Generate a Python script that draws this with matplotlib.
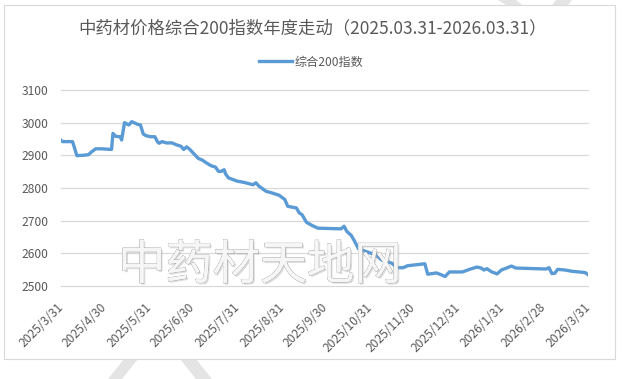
import numpy as np
import pandas as pd
import matplotlib
matplotlib.use('Agg')
import matplotlib.pyplot as plt
import matplotlib.patheffects as pe
from matplotlib.patches import Rectangle, Polygon

plt.rcParams['font.family'] = ['Noto Sans CJK SC', 'DejaVu Sans']

# index values
dates = ['2025-03-31', '2025-04-01', '2025-04-08', '2025-04-11', '2025-04-15', '2025-04-19',
         '2025-04-21', '2025-04-24', '2025-04-28', '2025-05-05', '2025-05-06', '2025-05-08',
         '2025-05-11', '2025-05-12', '2025-05-14', '2025-05-17', '2025-05-19', '2025-05-23',
         '2025-05-25', '2025-05-27', '2025-05-29', '2025-06-01', '2025-06-04', '2025-06-06',
         '2025-06-07', '2025-06-09', '2025-06-12', '2025-06-16', '2025-06-19', '2025-06-22',
         '2025-06-24', '2025-06-26', '2025-06-28', '2025-07-01', '2025-07-04', '2025-07-07',
         '2025-07-10', '2025-07-13', '2025-07-16', '2025-07-18', '2025-07-20', '2025-07-22',
         '2025-07-23', '2025-07-25', '2025-07-28', '2025-07-31', '2025-08-05', '2025-08-11',
         '2025-08-13', '2025-08-15', '2025-08-20', '2025-08-24', '2025-08-29', '2025-09-02',
         '2025-09-04', '2025-09-10', '2025-09-12', '2025-09-14', '2025-09-17', '2025-09-21',
         '2025-09-25', '2025-10-11', '2025-10-13', '2025-10-15', '2025-10-18', '2025-10-20',
         '2025-10-23', '2025-10-28', '2025-11-04', '2025-11-08', '2025-11-15', '2025-11-19',
         '2025-11-23', '2025-11-26', '2025-12-08', '2025-12-10', '2025-12-16', '2025-12-19',
         '2025-12-22', '2025-12-25', '2026-01-03', '2026-01-08', '2026-01-13', '2026-01-16',
         '2026-01-18', '2026-01-20', '2026-01-23', '2026-01-27', '2026-01-30', '2026-02-02',
         '2026-02-06', '2026-02-09', '2026-03-02', '2026-03-04', '2026-03-06', '2026-03-08',
         '2026-03-10', '2026-03-15', '2026-03-20', '2026-03-25', '2026-03-29', '2026-03-31']
values = [2946, 2942, 2942, 2899, 2900, 2902,
          2910, 2920, 2920, 2918, 2967, 2958,
          2957, 2947, 3000, 2993, 3003, 2995,
          2993, 2965, 2960, 2957, 2957, 2940,
          2937, 2942, 2938, 2938, 2932, 2928,
          2918, 2926, 2919, 2905, 2891, 2885,
          2876, 2868, 2864, 2851, 2851, 2856,
          2843, 2831, 2826, 2821, 2817, 2810,
          2816, 2806, 2790, 2785, 2778, 2765,
          2744, 2739, 2724, 2718, 2695, 2685,
          2677, 2675, 2683, 2667, 2655, 2640,
          2614, 2606, 2595, 2580, 2570, 2556,
          2556, 2562, 2568, 2536, 2540, 2535,
          2529, 2543, 2543, 2551, 2558, 2555,
          2549, 2553, 2544, 2537, 2549, 2554,
          2561, 2555, 2552, 2556, 2538, 2539,
          2551, 2549, 2545, 2543, 2541, 2535]

tick_dates = ['2025-03-31', '2025-04-30', '2025-05-31', '2025-06-30', '2025-07-31',
              '2025-08-31', '2025-09-30', '2025-10-31', '2025-11-30', '2025-12-31',
              '2026-01-31', '2026-02-28', '2026-03-31']
tick_labels = ['2025/3/31', '2025/4/30', '2025/5/31', '2025/6/30', '2025/7/31',
               '2025/8/31', '2025/9/30', '2025/10/31', '2025/11/30', '2025/12/31',
               '2026/1/31', '2026/2/28', '2026/3/31']
y_ticks = [2500, 2600, 2700, 2800, 2900, 3000, 3100]

title = '中药材价格综合200指数年度走动（2025.03.31-2026.03.31）'
series_name = '综合200指数'
watermark = '中药材天地网'

txt = '#595959'
grid_c = '#d9d9d9'
blue = '#5b9bd5'

fig = plt.figure(figsize=(6.3, 3.79), dpi=100)
W, H = 630, 379

# faint diagonal watermark stripes outside the chart frame
for pts in ([(498, 0), (516, 0), (522, 5), (506, 5)],
            [(556, 0), (572, 0), (568, 5), (552, 5)],
            [(108, 379), (122, 379), (138, 359), (124, 359)],
            [(180, 359), (196, 359), (212, 379), (196, 379)]):
    fig.patches.append(Polygon([(x / W, 1 - y / H) for x, y in pts], closed=True,
                               transform=fig.transFigure, facecolor='#e4e4e4',
                               edgecolor='none', zorder=0))

# chart frame
fig.patches.append(Rectangle((4 / W, 1 - 359 / H), 611 / W, 354 / H,
                             transform=fig.transFigure, facecolor='white',
                             edgecolor=grid_c, linewidth=0.8, zorder=1))

ax = fig.add_axes([61 / W, 1 - 286 / H, 527 / W, 196 / H])
ax.set_zorder(2)
ax.patch.set_alpha(0)

x = pd.to_datetime(dates)
ax.plot(x, values, color=blue, linewidth=2.4, solid_joinstyle='round',
        label=series_name, zorder=3)

ax.set_ylim(2500, 3100)
ax.set_xlim(pd.Timestamp(tick_dates[0]), pd.Timestamp(tick_dates[-1]))
ax.set_yticks(y_ticks)
ax.set_yticklabels([str(v) for v in y_ticks])
for v in y_ticks:
    ax.axhline(v, color=grid_c, linewidth=0.9, zorder=1, clip_on=False)

ax.set_xticks(pd.to_datetime(tick_dates))
ax.set_xticklabels(tick_labels, rotation=45, ha='right', va='center',
                   rotation_mode='anchor')
ax.tick_params(axis='x', length=0, pad=14, labelsize=8.7, labelcolor=txt)
ax.tick_params(axis='y', length=0, pad=9, labelsize=8.7, labelcolor=txt)
for s in ax.spines.values():
    s.set_visible(False)

fig.text(313 / W, 1 - 28 / H, title, ha='center', va='center',
         fontsize=12.5, color=txt, zorder=3)
ax.legend(loc='center', bbox_to_anchor=(311 / W, 1 - 62 / H),
          bbox_transform=fig.transFigure, frameon=False, fontsize=8.7,
          labelcolor=txt, handlelength=2.8, handletextpad=0.2)

fig.text(260 / W, 1 - 266 / H, watermark, ha='center', va='center',
         fontsize=34, color='#f6f6f6', zorder=5, fontweight='light',
         path_effects=[pe.withSimplePatchShadow(offset=(1.2, -1.2),
                                                shadow_rgbFace='#a8a8a8', alpha=0.4),
                       pe.withStroke(linewidth=0.6, foreground='#909090'),
                       pe.Normal()])

fig.savefig('out.png', dpi=100)
